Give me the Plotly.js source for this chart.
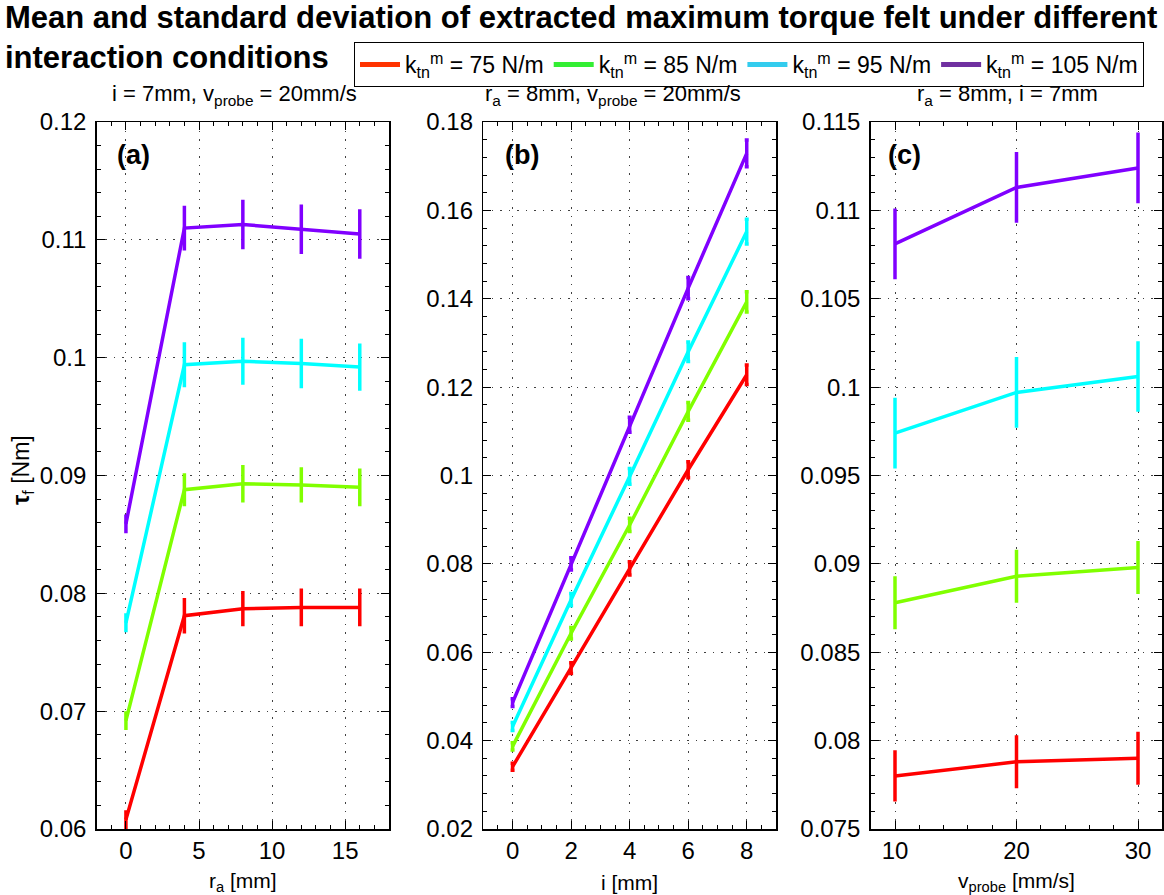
<!DOCTYPE html>
<html>
<head>
<meta charset="utf-8">
<script src="https://cdn.plot.ly/plotly-3.0.1.min.js"></script>
<style>html,body{margin:0;padding:0;background:#fff;}#chart{width:1164px;height:895px;}</style>
</head>
<body>
<div id="chart"></div>
<script>
// ---------- data ----------
const seriesNames = ['k<sub>tn</sub><sup>m</sup> = 75 N/m', 'k<sub>tn</sub><sup>m</sup> = 85 N/m', 'k<sub>tn</sub><sup>m</sup> = 95 N/m', 'k<sub>tn</sub><sup>m</sup> = 105 N/m'];

// panel (a): x = r_a [mm]
const raA = [0, 4, 8, 12, 16];
const aMean75  = [0.0608, 0.0781, 0.0787, 0.0788, 0.0788];
const aStd75   = [0.0008, 0.0015, 0.0015, 0.0016, 0.0016];
const aMean85  = [0.0692, 0.0888, 0.0893, 0.0892, 0.0890];
const aStd85   = [0.0008, 0.0014, 0.0016, 0.0015, 0.0016];
const aMean95  = [0.0775, 0.0994, 0.0997, 0.0995, 0.0992];
const aStd95   = [0.0008, 0.0019, 0.0020, 0.0021, 0.0020];
const aMean105 = [0.0859, 0.1110, 0.1113, 0.1109, 0.1105];
const aStd105  = [0.0008, 0.0019, 0.0021, 0.0021, 0.0021];

// panel (b): x = i [mm]
const iB = [0, 2, 4, 6, 8];
const bMean75  = [0.0341, 0.0564, 0.0790, 0.1013, 0.1228];
const bStd75   = [0.0008, 0.0012, 0.0015, 0.0018, 0.0022];
const bMean85  = [0.0387, 0.0643, 0.0888, 0.1145, 0.1393];
const bStd85   = [0.0008, 0.0013, 0.0015, 0.0020, 0.0023];
const bMean95  = [0.0432, 0.0719, 0.0998, 0.1280, 0.1552];
const bStd95   = [0.0009, 0.0014, 0.0018, 0.0022, 0.0028];
const bMean105 = [0.0486, 0.0800, 0.1115, 0.1424, 0.1729];
const bStd105  = [0.0009, 0.0014, 0.0017, 0.0024, 0.0030];

// panel (c): x = v_probe [mm/s]
const vC = [10, 20, 30];
const cMean75  = [0.0780, 0.0788, 0.0790];
const cStd75   = [0.00145, 0.0015, 0.0015];
const cMean85  = [0.0878, 0.0893, 0.0898];
const cStd85   = [0.0015, 0.0015, 0.0015];
const cMean95  = [0.0974, 0.0997, 0.1006];
const cStd95   = [0.0020, 0.0020, 0.0020];
const cMean105 = [0.1081, 0.1113, 0.1124];
const cStd105  = [0.0020, 0.0020, 0.0020];

const subtitles = ['i = 7mm, v<sub>probe</sub> = 20mm/s', 'r<sub>a</sub> = 8mm, v<sub>probe</sub> = 20mm/s', 'r<sub>a</sub> = 8mm, i = 7mm'];
const panelLabels = ['<b>(a)</b>', '<b>(b)</b>', '<b>(c)</b>'];
const xTitles = ['r<sub>a</sub> [mm]', 'i [mm]', 'v<sub>probe</sub> [mm/s]'];
const yTitle = '<b>τ</b><sub>f</sub> [Nm]';
const titleText = '<b>Mean and standard deviation of extracted maximum torque felt under different<br>interaction conditions</b>';

// ---------- styling ----------
const FAM = 'Liberation Sans, Arial, Helvetica, sans-serif';
const lineColors = ['#ff0000', '#80ff00', '#00ffff', '#8000ff'];
const legendColors = ['#ff3300', '#33ee33', '#33ccee', '#7030a0'];
const W = 1164, H = 895;

const panels = [
  {x: raA, means: [aMean75, aMean85, aMean95, aMean105], stds: [aStd75, aStd85, aStd95, aStd105], cap: 0},
  {x: iB,  means: [bMean75, bMean85, bMean95, bMean105], stds: [bStd75, bStd85, bStd95, bStd105], cap: 2},
  {x: vC,  means: [cMean75, cMean85, cMean95, cMean105], stds: [cStd75, cStd85, cStd95, cStd105], cap: 0}
];

const traces = [];
panels.forEach((p, pi) => {
  const sfx = pi === 0 ? '' : String(pi + 1);
  p.means.forEach((m, si) => {
    traces.push({
      type: 'scatter', mode: 'lines', x: p.x, y: m,
      xaxis: 'x' + sfx, yaxis: 'y' + sfx,
      line: {color: lineColors[si], width: 3.5},
      error_y: {type: 'data', array: p.stds[si], visible: true, color: lineColors[si], thickness: 3.5, width: p.cap},
      showlegend: false, hoverinfo: 'x+y'
    });
  });
});
// legend entries
seriesNames.forEach((n, si) => {
  traces.push({type: 'scatter', mode: 'lines', x: [null], y: [null], name: n,
    line: {color: legendColors[si], width: 5}, showlegend: true, xaxis: 'x', yaxis: 'y'});
});

const px = v => v / W;
const py = v => 1 - v / H;
const yDom = [py(829), py(122)];
const xDoms = [[px(96.7), px(389)], [px(483.3), px(776)], [px(870.7), px(1162.3)]];
const xRanges = [[-2, 18], [-1, 9], [8, 32]];
const xDticks = [5, 2, 10];
const xMinor = [1, 0.5, 2];
const yRanges = [[0.06, 0.12], [0.02, 0.18], [0.075, 0.115]];
const yDticks = [0.01, 0.02, 0.005];
const yMinor = [0.002, 0.004, 0.001];

const axBase = {
  showline: true, linecolor: '#000', linewidth: 1.5, mirror: 'ticks',
  ticks: 'inside', ticklen: 8, tickwidth: 1, tickcolor: '#000',
  showgrid: true, gridcolor: 'rgba(0,0,0,0.75)', griddash: '1.5px,7px', gridwidth: 1,
  zeroline: false, automargin: false,
  tickfont: {family: FAM, size: 24, color: '#000'}
};

const layout = {
  width: W, height: H,
  margin: {l: 0, r: 0, t: 0, b: 0},
  paper_bgcolor: '#fff', plot_bgcolor: '#fff',
  font: {family: FAM, color: '#000'},
  title: {text: titleText, x: px(5), xanchor: 'left', xref: 'paper', y: py(28), yanchor: 'top', yref: 'container',
          font: {family: FAM, size: 31, color: '#000'}},
  showlegend: true,
  legend: {orientation: 'h', x: px(354), y: py(42), xanchor: 'left', yanchor: 'top',
           bordercolor: '#000', borderwidth: 1, bgcolor: '#fff',
           font: {family: FAM, size: 23, color: '#000'}, itemwidth: 40, tracegroupgap: 0},
  annotations: [],
  hovermode: false
};

for (let k = 0; k < 3; k++) {
  const sfx = k === 0 ? '' : String(k + 1);
  layout['xaxis' + sfx] = Object.assign({}, axBase, {
    domain: xDoms[k], range: xRanges[k], dtick: xDticks[k], tick0: 0, anchor: 'y' + sfx,
    minor: {dtick: xMinor[k], ticks: 'inside', ticklen: 4, tickcolor: '#000', showgrid: false}
  });
  layout['yaxis' + sfx] = Object.assign({}, axBase, {
    domain: yDom, range: yRanges[k], dtick: yDticks[k], tick0: 0, anchor: 'x' + sfx,
    ticklabelstandoff: 4,
    minor: {dtick: yMinor[k], ticks: 'inside', ticklen: 4, tickcolor: '#000', showgrid: false}
  });
}

const subX = [234, 613, 1007];
const labX = [115, 503, 886];
const titX = [(96.7 + 389) / 2, (483.3 + 776) / 2, (870.7 + 1162.3) / 2];
for (let k = 0; k < 3; k++) {
  layout.annotations.push({text: subtitles[k], xref: 'paper', yref: 'paper', x: px(subX[k]), y: py(95),
    xanchor: 'center', yanchor: 'middle', showarrow: false, font: {family: FAM, size: 22, color: '#000'}});
  layout.annotations.push({text: panelLabels[k], xref: 'paper', yref: 'paper', x: px(labX[k]), y: py(155),
    xanchor: 'left', yanchor: 'middle', showarrow: false, font: {family: FAM, size: 27, color: '#000'}});
  layout.annotations.push({text: xTitles[k], xref: 'paper', yref: 'paper', x: px(titX[k]), y: py(882),
    xanchor: 'center', yanchor: 'middle', showarrow: false, font: {family: FAM, size: 21, color: '#000'}});
}
layout.annotations.push({text: yTitle, xref: 'paper', yref: 'paper', x: px(22), y: py(470),
  xanchor: 'center', yanchor: 'middle', textangle: -90, showarrow: false, font: {family: FAM, size: 23, color: '#000'}});

Plotly.newPlot('chart', traces, layout, {displayModeBar: false, staticPlot: true});
</script>
</body>
</html>
